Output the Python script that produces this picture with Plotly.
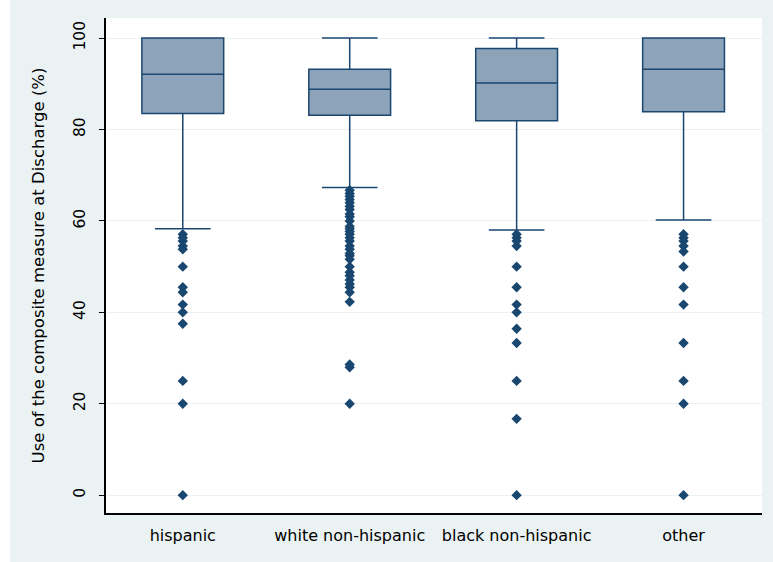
import plotly.graph_objects as go

# Groups and summary statistics (percent)
categories = ["hispanic", "white non-hispanic", "black non-hispanic", "other"]
q1_vals = [83.5, 83.1, 81.9, 83.9]
median_vals = [92.1, 88.8, 90.2, 93.2]
q3_vals = [100.0, 93.2, 97.7, 100.0]
lower_whisker = [58.3, 67.3, 58.0, 60.2]
upper_whisker = [100.0, 100.0, 100.0, 100.0]

# Outlying observations per group
outliers_hispanic = [57.1, 56.3, 55.6, 54.5, 53.8, 50.0, 45.5, 44.4, 41.7, 40.0,
                     37.5, 25.0, 20.0, 0.0]
outliers_white = [66.7, 66.0, 65.4, 64.7, 64.0, 63.2, 62.5, 61.5, 60.9, 60.0,
                  58.8, 58.3, 57.7, 57.1, 56.3, 55.6, 54.5, 53.8, 52.9, 52.4,
                  51.6, 50.0, 48.8, 48.0, 47.1, 46.2, 45.5, 44.4, 42.3, 28.6,
                  28.0, 20.0]
outliers_black = [57.1, 56.3, 55.6, 54.5, 50.0, 45.5, 41.7, 40.0, 36.4, 33.3,
                  25.0, 16.7, 0.0]
outliers_other = [57.1, 56.3, 55.6, 54.5, 53.3, 50.0, 45.5, 41.7, 33.3, 25.0,
                  20.0, 0.0]
outlier_groups = [outliers_hispanic, outliers_white, outliers_black, outliers_other]

y_ticks = [0, 20, 40, 60, 80, 100]

NAVY = "#1A476F"
FILL = "#8DA3B9"
BG = "#EAF2F3"
FONT = "DejaVu Sans, Verdana, sans-serif"

fig = go.Figure()

fig.add_trace(go.Box(
    x=categories,
    q1=q1_vals,
    median=median_vals,
    q3=q3_vals,
    lowerfence=lower_whisker,
    upperfence=upper_whisker,
    width=0.49,
    whiskerwidth=0.68,
    fillcolor=FILL,
    line=dict(color=NAVY, width=1.5),
    boxpoints=False,
    showlegend=False,
    hoverinfo="skip",
))

ox, oy = [], []
for cat, vals in zip(categories, outlier_groups):
    ox.extend([cat] * len(vals))
    oy.extend(vals)

fig.add_trace(go.Scatter(
    x=ox, y=oy, mode="markers",
    marker=dict(symbol="diamond", size=8, color=NAVY, line=dict(width=0)),
    showlegend=False, hoverinfo="skip",
))

W, H = 773, 562
ml, mr, mt, mb = 106, 11, 18, 49
pw = W - ml - mr

# White strip along the left edge of the page
fig.add_shape(type="rect", xref="paper", yref="paper",
              x0=(0 - ml) / pw, x1=(10 - ml) / pw, y0=-2, y1=2,
              fillcolor="white", line=dict(width=0), layer="below")

fig.update_layout(
    width=W, height=H,
    margin=dict(l=ml, r=mr, t=mt, b=mb, pad=0),
    paper_bgcolor=BG,
    plot_bgcolor="white",
    font=dict(family=FONT, color="#000000", size=14),
    xaxis=dict(
        type="category",
        range=[-0.46, 3.47],
        showgrid=False,
        showline=True, linecolor="#000000", linewidth=1.5,
        ticks="", tickfont=dict(size=16),
        ticklabelstandoff=7,
        zeroline=False,
    ),
    yaxis=dict(
        range=[-3.9, 104.4],
        tickvals=y_ticks,
        ticktext=[str(v) for v in y_ticks],
        tickangle=-90,
        ticks="outside", ticklen=5, tickwidth=1, tickcolor="#000000",
        ticklabelstandoff=8,
        showline=True, linecolor="#000000", linewidth=1.5,
        showgrid=True, gridcolor=BG, gridwidth=1,
        zeroline=False,
        tickfont=dict(size=15.5),
        title=dict(text="Use of the composite measure at Discharge (%)",
                   font=dict(size=16.5), standoff=22),
    ),
)

fig.write_html("out.html")
